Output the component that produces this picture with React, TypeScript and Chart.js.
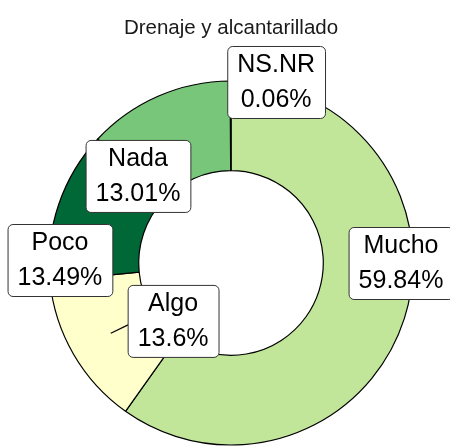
import React, { useEffect, useRef } from "react";
import { Chart, registerables } from "chart.js";

Chart.register(...registerables);

const titleText = "Drenaje y alcantarillado";
const categories = ["Mucho", "Algo", "Poco", "Nada", "NS.NR"];
const values = [59.84, 13.6, 13.49, 13.01, 0.06];
const colors = ["#c2e699", "#ffffcc", "#006837", "#78c679", "#31a354"];

const FONT = "'Liberation Sans', Arial, sans-serif";

// label placement (polar: degrees clockwise from top, fraction of outer radius)
const labelPlacement: Record<string, { a: number; r: number }> = {
  Mucho: { a: 90, r: 0.934 },
  Algo: { a: 225, r: 0.45 },
  Poco: { a: 271, r: 0.94 },
  Nada: { a: 313.1, r: 0.7 },
  "NS.NR": { a: 14, r: 1.025 },
};
const leader = { from: { a: 239.7, r: 0.765 }, to: { a: 239.0, r: 0.66 } };

const labelPlugin = {
  id: "boxLabels",
  afterDraw(chart: any) {
    const meta = chart.getDatasetMeta(0);
    const arc: any = meta.data[0];
    if (!arc) return;
    const cx = arc.x;
    const cy = arc.y;
    const R = arc.outerRadius;
    const ctx = chart.ctx as CanvasRenderingContext2D;
    const pt = (p: { a: number; r: number }) => {
      const t = ((p.a - 90) * Math.PI) / 180;
      return [cx + Math.cos(t) * R * p.r, cy + Math.sin(t) * R * p.r];
    };
    ctx.save();
    const [x1, y1] = pt(leader.from);
    const [x2, y2] = pt(leader.to);
    ctx.strokeStyle = "#000";
    ctx.lineWidth = 1.2;
    ctx.beginPath();
    ctx.moveTo(x1, y1);
    ctx.lineTo(x2, y2);
    ctx.stroke();

    ctx.font = `25px ${FONT}`;
    ctx.textAlign = "center";
    ctx.textBaseline = "middle";
    categories.forEach((cat, i) => {
      const p = labelPlacement[cat];
      if (!p) return;
      const [x, y] = pt(p);
      const lines = [cat, `${values[i]}%`];
      const tw = Math.max(...lines.map((l) => ctx.measureText(l).width));
      const w = tw + 20;
      const h = 72;
      const bx = x - w / 2;
      const by = y - h / 2;
      ctx.beginPath();
      (ctx as any).roundRect(bx + 0.5, by + 0.5, w, h, 5);
      ctx.fillStyle = "#ffffff";
      ctx.fill();
      ctx.strokeStyle = "#333333";
      ctx.lineWidth = 1;
      ctx.stroke();
      ctx.fillStyle = "#000000";
      ctx.fillText(lines[0], x, y - 17);
      ctx.fillText(lines[1], x, y + 18);
    });
    ctx.restore();
  },
};

export default function App() {
  const ref = useRef<HTMLCanvasElement | null>(null);
  useEffect(() => {
    if (!ref.current) return;
    const chart = new Chart(ref.current, {
      type: "doughnut",
      data: {
        labels: categories,
        datasets: [
          {
            data: values,
            backgroundColor: colors,
            borderColor: "#000000",
            borderWidth: 1.2,
          },
        ],
      },
      options: {
        responsive: false,
        animation: false,
        radius: 182,
        cutout: 92,
        layout: { padding: { left: 49, right: 37, top: 0, bottom: 1 } },
        plugins: {
          legend: { display: false },
          tooltip: { enabled: false },
          title: {
            display: true,
            text: titleText,
            color: "#1a1a1a",
            font: { family: FONT, size: 20.5, weight: "normal" },
            padding: { top: 16, bottom: 40.4 },
          },
        },
      },
      plugins: [labelPlugin],
    });
    return () => chart.destroy();
  }, []);
  return (
    <div style={{ position: "fixed", left: 0, top: 0, width: 450, height: 446, background: "#fff" }}>
      <canvas ref={ref} width={450} height={446} style={{ display: "block", width: 450, height: 446 }} />
    </div>
  );
}
